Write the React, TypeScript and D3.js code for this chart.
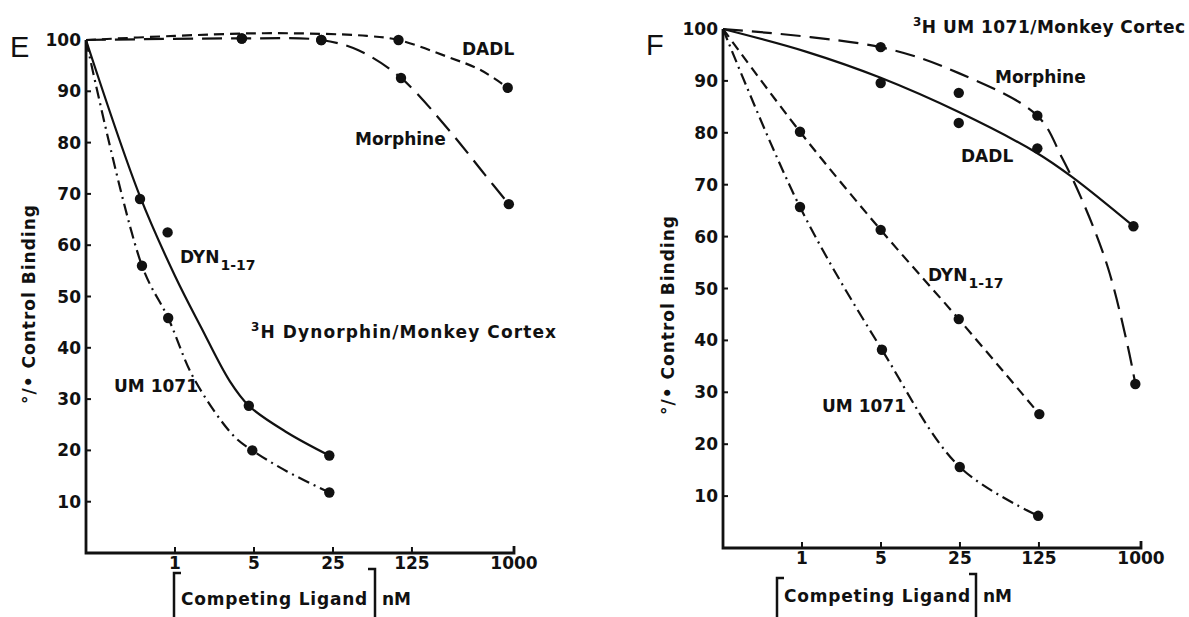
import React from 'react';
import * as d3 from 'd3';

type Pt = [number, number];

const X_TICKS = [1, 5, 25, 125, 1000];
const Y_TICKS = [10, 20, 30, 40, 50, 60, 70, 80, 90, 100];

// Panel E: 3H Dynorphin / monkey cortex  (x = nM, y = % control binding)
const eMorphineDots: Pt[] = [[3.9, 100.3], [19.7, 100], [100, 92.6], [900, 68]];
const eMorphineCurve: Pt[] = [[0.163, 100], [3.9, 100.3], [19.7, 100], [42, 98], [100, 92.6], [264, 82.5], [550, 73.8], [900, 68]];
const eDadlDots: Pt[] = [[3.9, 100.3], [19.7, 100], [95, 100], [880, 90.7]];
const eDadlCurve: Pt[] = [[0.163, 100], [1, 100.8], [5, 101.3], [20, 101.2], [50, 100.8], [95, 100], [260, 96.7], [500, 94.2], [880, 90.7]];
const eDynDots: Pt[] = [[0.49, 69], [0.86, 62.5], [4.5, 28.7], [23.2, 19]];
const eDynCurve: Pt[] = [[0.163, 100], [0.49, 69.5], [1.0, 54], [1.7, 44], [3.05, 33.5], [4.5, 28.7], [9.8, 23.5], [23.2, 19]];
const eUmDots: Pt[] = [[0.51, 56], [0.87, 45.8], [4.83, 20], [23.2, 11.8]];
const eUmCurve: Pt[] = [[0.163, 100], [0.51, 56], [0.87, 45.8], [1.47, 34], [3.28, 22.9], [4.83, 20], [9.8, 15.9], [23.2, 11.8]];

// Panel F: 3H UM 1071 / monkey cortex
const fMorphineDots: Pt[] = [[4.97, 96.5], [24.4, 87.7], [121, 83.3], [891, 31.6]];
const fMorphineCurve: Pt[] = [[0.2, 100], [4.97, 96.5], [24.4, 91.5], [121, 83.3], [199, 75.3], [320, 65.7], [510, 54], [767, 38.7], [891, 31.6]];
const fDadlDots: Pt[] = [[4.97, 89.6], [24.4, 81.9], [121, 77], [857, 62]];
const fDadlCurve: Pt[] = [[0.2, 100], [1.1, 95.6], [4.97, 90.6], [24.4, 84], [116, 76.3], [245, 71.5], [857, 62]];
const fDynDots: Pt[] = [[0.96, 80.2], [4.97, 61.3], [24.4, 44.1], [126, 25.8]];
const fDynCurve: Pt[] = [[0.2, 100], [0.96, 80.2], [4.97, 61.3], [24.4, 44.1], [126, 25.8]];
const fUmDots: Pt[] = [[0.96, 65.7], [5.1, 38.2], [24.9, 15.6], [123, 6.2]];
const fUmCurve: Pt[] = [[0.2, 100], [0.96, 65.7], [5.1, 38.2], [24.9, 15.6], [123, 6.2]];

const LONG = '20 9';
const SHORT = '10 6';
const DASHDOT = '12 5 2 5';
const INK = '#111';
const FONT = '"DejaVu Sans", sans-serif';

interface Series { curve: Pt[]; dots: Pt[]; dash?: string }
interface Label { text: string; sub?: string; x: number; y: number }

interface PanelProps {
  letter: string;
  letterPos: [number, number];
  xMin: number;
  xRange: [number, number];
  yRange: [number, number];
  series: Series[];
  labels: Label[];
  title: { x: number; y: number; rest: string; width: number };
  yLabel: [number, number];
  xTitle: { lb: number; rb: number; top: number; y: number };
}

const Panel = ({ letter, letterPos, xMin, xRange, yRange, series, labels, title, yLabel, xTitle }: PanelProps) => {
  const x = d3.scaleLog().domain([xMin, 1000]).range(xRange);
  const y = d3.scaleLinear().domain([0, 100]).range(yRange);
  const line = d3.line<Pt>().x(d => x(d[0])).y(d => y(d[1])).curve(d3.curveCatmullRom.alpha(0.5));
  const x0 = xRange[0];
  const y0 = y(0);

  return (
    <g fontFamily={FONT} fontWeight="bold" fontSize={17} fill={INK}>
      <text x={letterPos[0]} y={letterPos[1]} fontFamily='"Liberation Sans", sans-serif' fontWeight="normal" fontSize={29}>{letter}</text>

      {/* axes */}
      <path d={`M${x0},${y(100)}V${y0}H${x(1000)}V${y0 - 7}`} fill="none" stroke={INK} strokeWidth={2.8} />
      {Y_TICKS.slice(0, -1).map(t => (
        <line key={t} x1={x0} x2={x0 + 5} y1={y(t)} y2={y(t)} stroke={INK} strokeWidth={2} />
      ))}
      {Y_TICKS.map(t => (
        <text key={t} x={x0 - 5} y={y(t) + 6} textAnchor="end">{t}</text>
      ))}
      {X_TICKS.slice(0, -1).map(t => (
        <line key={t} x1={x(t)} x2={x(t)} y1={y0} y2={y0 - 6} stroke={INK} strokeWidth={2} />
      ))}
      {X_TICKS.map(t => (
        <text key={t} x={x(t)} y={y0 + 16} textAnchor="middle">{t}</text>
      ))}

      {/* curves and points */}
      {series.map((s, i) => (
        <g key={i}>
          <path d={line(s.curve) ?? ''} fill="none" stroke={INK} strokeWidth={2.2} strokeDasharray={s.dash} />
          {s.dots.map((d, j) => (
            <circle key={j} cx={x(d[0])} cy={y(d[1])} r={5.2} fill={INK} />
          ))}
        </g>
      ))}

      {labels.map((l, i) => (
        <text key={i} x={l.x} y={l.y}>
          {l.text}
          {l.sub && <tspan fontSize={14} dy={7} dx={1}>{l.sub}</tspan>}
        </text>
      ))}

      <text x={title.x} y={title.y} textLength={title.width} lengthAdjust="spacing">
        <tspan fontSize={12} dy={-7}>3</tspan>
        <tspan dy={7}>{title.rest}</tspan>
      </text>

      <text transform={`translate(${yLabel[0]},${yLabel[1]}) rotate(-90)`} textAnchor="middle" letterSpacing={1}>
        °/• Control Binding
      </text>

      <path d={`M${xTitle.lb + 7},${xTitle.top}H${xTitle.lb}V630`} fill="none" stroke={INK} strokeWidth={2.5} />
      <path d={`M${xTitle.rb - 7},${xTitle.top - 4}H${xTitle.rb}V630`} fill="none" stroke={INK} strokeWidth={2.5} />
      <text x={xTitle.lb + 7} y={xTitle.y} letterSpacing={0.8}>Competing Ligand</text>
      <text x={xTitle.rb + 7} y={xTitle.y}>nM</text>
    </g>
  );
};

export default function App() {
  return (
    <svg width={1189} height={617} style={{ position: 'absolute', left: 0, top: 0, background: '#fff' }}>
      <Panel
        letter="E"
        letterPos={[10, 57]}
        xMin={0.163}
        xRange={[86, 514]}
        yRange={[553, 40]}
        series={[
          { curve: eDadlCurve, dots: eDadlDots, dash: SHORT },
          { curve: eMorphineCurve, dots: eMorphineDots, dash: LONG },
          { curve: eDynCurve, dots: eDynDots },
          { curve: eUmCurve, dots: eUmDots, dash: DASHDOT },
        ]}
        labels={[
          { text: 'DADL', x: 462, y: 55 },
          { text: 'Morphine', x: 355, y: 145 },
          { text: 'DYN', sub: '1-17', x: 180, y: 263 },
          { text: 'UM 1071', x: 114, y: 392 },
        ]}
        title={{ x: 251, y: 338, rest: 'H Dynorphin/Monkey Cortex', width: 305 }}
        yLabel={[35, 304]}
        xTitle={{ lb: 174, rb: 375, top: 573, y: 605 }}
      />
      <Panel
        letter="F"
        letterPos={[646, 55]}
        xMin={0.2}
        xRange={[723, 1141]}
        yRange={[548, 29]}
        series={[
          { curve: fMorphineCurve, dots: fMorphineDots, dash: LONG },
          { curve: fDadlCurve, dots: fDadlDots },
          { curve: fDynCurve, dots: fDynDots, dash: SHORT },
          { curve: fUmCurve, dots: fUmDots, dash: DASHDOT },
        ]}
        labels={[
          { text: 'Morphine', x: 995, y: 83 },
          { text: 'DADL', x: 961, y: 162 },
          { text: 'DYN', sub: '1-17', x: 928, y: 281 },
          { text: 'UM 1071', x: 822, y: 412 },
        ]}
        title={{ x: 913, y: 33, rest: 'H UM 1071/Monkey Cortec', width: 272 }}
        yLabel={[674, 315]}
        xTitle={{ lb: 777, rb: 976, top: 578, y: 602 }}
      />
    </svg>
  );
}
